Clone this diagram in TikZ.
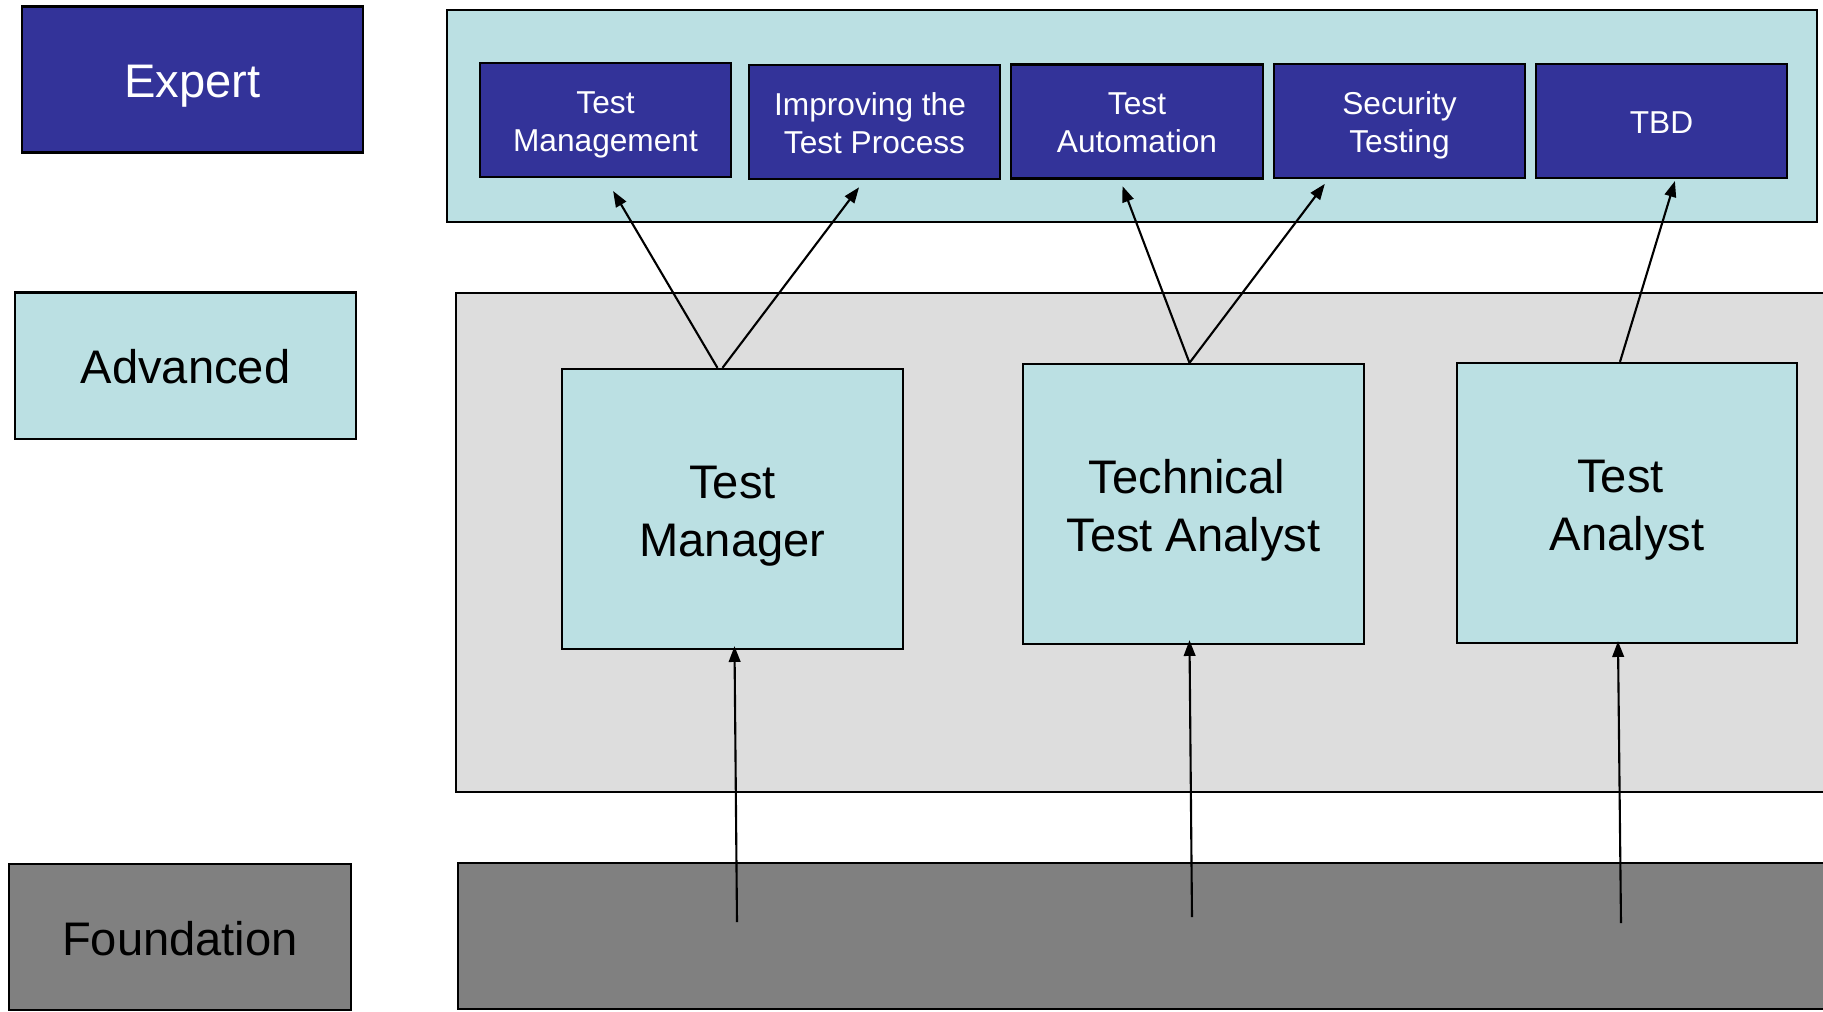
\documentclass[tikz,border=0pt]{standalone}
\usepackage{fontspec}
\setmainfont{Liberation Sans}
\usetikzlibrary{arrows.meta}

\definecolor{expblue}{HTML}{333399}
\definecolor{advcyan}{HTML}{BBE0E3}
\definecolor{advgray}{HTML}{DDDDDD}
\definecolor{fndgray}{HTML}{808080}
\newcommand{\trail}{\hspace*{0.28em}}

\begin{document}
\begin{tikzpicture}[x=0.01cm, y=-0.01cm,
        box/.style={draw=black, line width=0.6pt, inner sep=0pt, align=center},
        level/.style={box, minimum width=3.41cm, minimum height=1.46cm, text height=12.9pt, text depth=2.55pt,
            font=\fontsize{13.4}{16}\selectfont},
        course/.style={box, fill=expblue, text=white, minimum width=2.51cm, minimum height=1.14cm,
            text height=19.44pt, text depth=1.71pt, font=\fontsize{9}{10.8}\selectfont},
        role/.style={box, fill=advcyan, minimum width=3.40cm, minimum height=2.80cm, text height=29.4pt, text depth=2.55pt,
            font=\fontsize{13.4}{16.5}\selectfont},
        arr/.style={-{Triangle[length=4.5pt,width=3.3pt]}, line width=0.6pt}]
        \useasboundingbox (0,0) rectangle (1823,1011);
        \clip (0,0) rectangle (1823,1011);

        \filldraw[fill=advcyan, line width=0.6pt] (447,10) rectangle (1817,222);
        \filldraw[fill=advgray, line width=0.6pt] (456,293) rectangle (1850,792);
        \filldraw[fill=fndgray, line width=0.6pt] (458,863) rectangle (1850,1009);

        \node[level, fill=expblue, text=white] (expert) at (192.5,79.5) {Expert};
        \node[level, fill=advcyan] (advanced) at (185.5,365.5) {Advanced};
        \node[level, fill=fndgray] (foundation) at (180,937) {Foundation};

        \node[course] (mgmt) at (605.5,120) {Test\\Management};
        \node[course] (impr) at (874.5,122) {Improving the\trail\\Test Process};
        \node[course] (autom) at (1137,121.5) {Test\\Automation};
        \node[course] (sec) at (1399.5,121) {Security\\Testing};
        \node[course, text height=8.64pt] (tbd) at (1661.5,121) {TBD};

        \node[role] (tm) at (732.5,509) {Test\\Manager};
        \node[role] (tta) at (1193.5,504) {Technical\trail\\Test Analyst};
        \node[role] (ta) at (1627,503) {Test\trail\\Analyst};

        \coordinate (f1) at (737,922);
        \coordinate (f2) at (1192,917);
        \coordinate (f3) at (1621,923);

        \draw[arr, shorten >=15pt*0.2845] ([xshift=-0.15cm]tm.north) -- (mgmt.south);
        \draw[arr, shorten >=9pt*0.2845] ([xshift=-0.10cm]tm.north) -- ([xshift=-0.10cm]impr.south);
        \draw[arr, shorten >=7pt*0.2845] ([xshift=-0.04cm]tta.north) -- ([xshift=-0.17cm]autom.south);
        \draw[arr, shorten >=6pt*0.2845] ([xshift=-0.04cm]tta.north) -- ([xshift=-0.71cm]sec.south);
        \draw[arr, shorten >=2pt*0.2845] ([xshift=-0.07cm]ta.north) -- ([xshift=0.14cm]tbd.south);

        \draw[arr] (f1) -- ([xshift=0.02cm, yshift=0.04cm]tm.south);
        \draw[arr] (f2) -- ([xshift=-0.04cm, yshift=0.05cm]tta.south);
        \draw[arr] (f3) -- ([xshift=-0.09cm, yshift=0.03cm]ta.south);
    \end{tikzpicture}
\end{document}
